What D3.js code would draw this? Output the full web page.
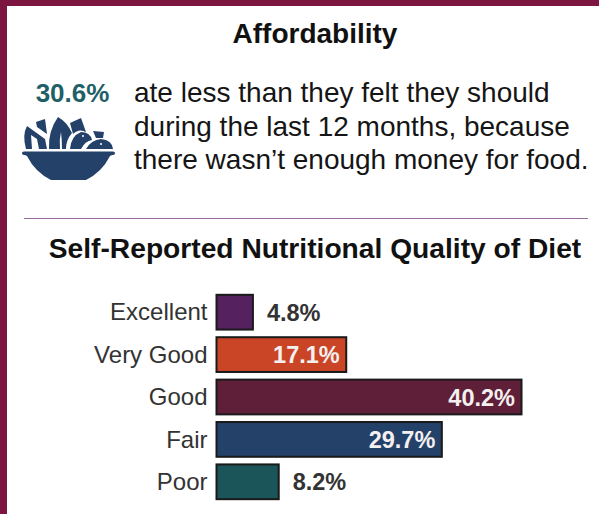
<!DOCTYPE html>
<html>
<head>
<meta charset="utf-8">
<script src="https://cdn.jsdelivr.net/npm/d3@7"></script>
<style>
  html, body { margin: 0; padding: 0; background: #fff; overflow: hidden; }
  text { font-family: "Liberation Sans", Arial, sans-serif; }
</style>
</head>
<body>
<svg id="chart"></svg>
<script>
const categories = ["Excellent", "Very Good", "Good", "Fair", "Poor"]
const values = [4.8, 17.1, 40.2, 29.7, 8.2]
const barColors = ["#55215f", "#c94526", "#5f1f38", "#24416a", "#1b5459"]
const sentence = [
  "ate less than they felt they should",
  "during the last 12 months, because",
  "there wasn\u2019t enough money for food."
]
const headline = "30.6%"

const width = 599
const height = 514
const maroon = "#7c1540"
const navy = "#24416a"
const ink = "#333333"

const svg = d3.select("#chart").attr("width", width).attr("height", height)

svg.append("rect").attr("width", width).attr("height", height).attr("fill", "#fff")
// frame, only top and left are visible
svg.append("rect").attr("width", width).attr("height", 6).attr("fill", maroon)
svg.append("rect").attr("width", 7).attr("height", height).attr("fill", maroon)

svg.append("text")
  .attr("x", 315).attr("y", 43)
  .attr("text-anchor", "middle")
  .attr("font-size", 28).attr("font-weight", 700).attr("fill", "#111")
  .text("Affordability")

svg.append("text")
  .attr("x", 72.5).attr("y", 102)
  .attr("text-anchor", "middle")
  .attr("font-size", 26).attr("font-weight", 700).attr("fill", "#1f5f68")
  .text(headline)

svg.append("g").selectAll("text")
  .data(sentence)
  .join("text")
  .attr("x", 134)
  .attr("y", (d, i) => 102 + i * 33.5)
  .attr("font-size", 28).attr("fill", "#151515")
  .text((d) => d)

// salad bowl icon
const icon = svg.append("g").attr("fill", navy)
icon.append("path").attr("d", "M22 153 Q22 151.5 24 151.5 L113 151.5 Q115 151.5 115 153 Q115 155 112 155 L110 156 Q102 172 86 180 L51 180 Q35 172 27 156 L25 155 Q22 155 22 153 Z")
icon.append("path").attr("d", "M26 149 Q22 135 27 126 L45 139 L47 149 L39 149 L37 139 L31 135 L32 149 Z")
icon.append("path").attr("d", "M36 122 L45 119 L47 134 L37 127 Z")
icon.append("path").attr("d", "M49 149 Q48 131 58 117 Q67 122 72 133 Q66 140 66 149 L62 149 Q62 140 61 132 Q59 140 60 149 Z")
icon.append("path").attr("d", "M70 123 L81 118 L86 132 Q79 128 73 134 Z")
icon.append("path").attr("d", "M70 149 Q71 136 81 132 Q90 132 92 140 Q85 141 81 149 Z")
icon.append("path").attr("d", "M93 131 L104 132 L103 138 L96 138 Z")
icon.append("path").attr("d", "M86 149 Q91 140 101 139 Q112 140 113 149 Z")
icon.append("circle").attr("cx", 83).attr("cy", 136).attr("r", 1).attr("fill", "#fff")
icon.append("circle").attr("cx", 101).attr("cy", 144).attr("r", 1).attr("fill", "#fff")

svg.append("line")
  .attr("x1", 24).attr("x2", 588)
  .attr("y1", 218.5).attr("y2", 218.5)
  .attr("stroke", "#9c6ba0").attr("stroke-width", 1)

svg.append("text")
  .attr("x", 315).attr("y", 258)
  .attr("text-anchor", "middle")
  .attr("font-size", 28.2).attr("font-weight", 700).attr("fill", "#111")
  .text("Self-Reported Nutritional Quality of Diet")

const xScale = d3.scaleLinear().domain([0, 40.2]).range([216.5, 521.5])
const yScale = d3.scaleBand()
  .domain(categories)
  .range([291, 503])
  .paddingInner(0.18)
  .paddingOuter(0.09)

const yAxis = d3.axisLeft(yScale).tickSize(0).tickPadding(9)
svg.append("g")
  .attr("transform", `translate(${xScale(0)}, 0.5)`)
  .call(yAxis)
  .call((g) => g.select(".domain").remove())
  .selectAll("text")
  .attr("font-size", 24)
  .attr("fill", ink)
  .style("font-family", '"Liberation Sans", Arial, sans-serif')

const rows = categories.map((c, i) => ({ category: c, value: values[i], color: barColors[i] }))

svg.append("g").selectAll("rect")
  .data(rows)
  .join("rect")
  .attr("x", xScale(0))
  .attr("y", (d) => yScale(d.category))
  .attr("width", (d) => xScale(d.value) - xScale(0))
  .attr("height", yScale.bandwidth())
  .attr("fill", (d) => d.color)
  .attr("stroke", "#1a1a1a")
  .attr("stroke-width", 2)

// short bars carry their label outside
const isInside = (d) => d.value > 10
svg.append("g").selectAll("text")
  .data(rows)
  .join("text")
  .attr("x", (d) => isInside(d) ? xScale(d.value) - 6.5 : xScale(d.value) + 14)
  .attr("y", (d) => yScale(d.category) + yScale.bandwidth() / 2 + 8.5)
  .attr("text-anchor", (d) => isInside(d) ? "end" : "start")
  .attr("font-size", 23.5).attr("font-weight", 700)
  .attr("fill", (d) => isInside(d) ? "#f4f0f0" : ink)
  .text((d) => `${d.value.toFixed(1)}%`)
</script>
</body>
</html>
